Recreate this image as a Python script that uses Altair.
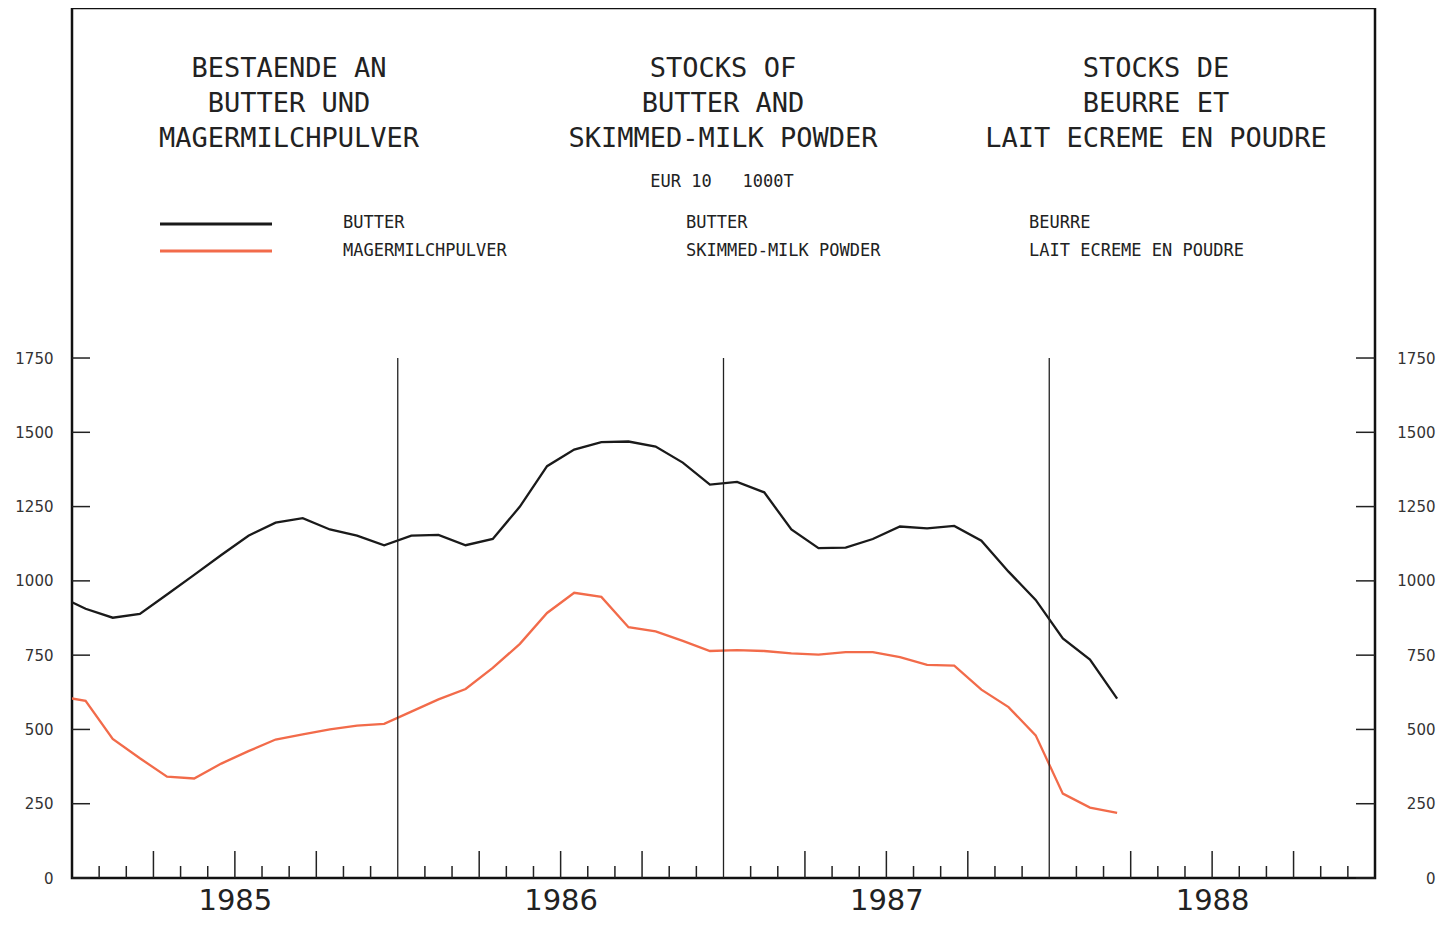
import altair as alt
import pandas as pd

# ---- data ----
months = list(range(-1, 39))  # month index from Jan 1985 = 0 (Dec 1984 = -1)
butter = [950, 906, 876, 889, 954, 1020, 1087, 1152, 1196, 1211, 1173, 1152,
          1120, 1152, 1155, 1120, 1141, 1250, 1386, 1442, 1467, 1469, 1452, 1398,
          1324, 1333, 1298, 1173, 1110, 1112, 1141, 1183, 1177, 1185, 1135, 1031,
          936, 806, 735, 604]
skimmed = [612, 596, 468, 403, 341, 335, 385, 427, 466, 483, 500, 513,
           519, 560, 601, 636, 707, 788, 892, 960, 946, 844, 830, 798,
           764, 767, 764, 756, 752, 760, 760, 743, 717, 715, 634, 575,
           480, 284, 237, 219]
series_names = ["BUTTER", "MAGERMILCHPULVER"]
series_colors = ["#1a1a1a", "#f26b4a"]

year_labels = ["1985", "1986", "1987", "1988"]
year_centers = [6, 18, 30, 42]
year_boundaries = [12, 24, 36]
y_ticks = [0, 250, 500, 750, 1000, 1250, 1500, 1750]
month_ticks = [m for m in range(1, 48) if m % 3 != 0]
quarter_ticks = [m for m in range(3, 48, 3) if m % 12 != 0]

title_de = ["BESTAENDE AN", "BUTTER UND", "MAGERMILCHPULVER"]
title_en = ["STOCKS OF", "BUTTER AND", "SKIMMED-MILK POWDER"]
title_fr = ["STOCKS DE", "BEURRE ET", "LAIT ECREME EN POUDRE"]
unit_text = "EUR 10\u00a0\u00a0\u00a01000T"
legend_de = ["BUTTER", "MAGERMILCHPULVER"]
legend_en = ["BUTTER", "SKIMMED-MILK POWDER"]
legend_fr = ["BEURRE", "LAIT ECREME EN POUDRE"]

# ---- layout ----
W, H = 1303, 870
XDOM = [0, 48]
YDOM = [0, 2928]
MONO = "DejaVu Sans Mono"
SANS = "DejaVu Sans"
INK = "#222222"

xs = alt.Scale(domain=XDOM, nice=False, zero=False)
ys = alt.Scale(domain=YDOM, nice=False, zero=False)

rows = []
for m, b, s in zip(months, butter, skimmed):
    rows.append({"pos": m + 0.5, "value": b, "series": series_names[0]})
    rows.append({"pos": m + 0.5, "value": s, "series": series_names[1]})
df = pd.DataFrame(rows)

label_expr = "[" + ",".join("'%s'" % y for y in year_labels) + "][floor(datum.value/12)]"

lines = alt.Chart(df).mark_line(clip=True, strokeWidth=2.3).encode(
    x=alt.X("pos:Q", scale=xs, axis=alt.Axis(
        values=year_centers, labelExpr=label_expr, ticks=False, tickSize=0,
        domain=False, grid=False, labelFont=SANS, labelFontSize=29,
        labelColor=INK, labelPadding=8, title=None)),
    y=alt.Y("value:Q", scale=ys, axis=alt.Axis(
        orient="left", values=y_ticks, format="d", ticks=False, tickSize=0, domain=False,
        grid=False, labelFont=SANS, labelFontSize=15, labelColor="#333333",
        labelPadding=19, title=None)),
    color=alt.Color("series:N", scale=alt.Scale(domain=series_names, range=series_colors), legend=None),
)

ytick_df = pd.DataFrame({"v": y_ticks})
left_ticks = alt.Chart(ytick_df).mark_rule(color=INK, strokeWidth=1.5).encode(
    y=alt.Y("v:Q", scale=ys, axis=None),
    x=alt.value(0), x2=alt.value(18),
)
right_ticks = alt.Chart(ytick_df).mark_rule(color=INK, strokeWidth=1.5).encode(
    y=alt.Y("v:Q", scale=ys, axis=alt.Axis(
        orient="right", values=y_ticks, format="d", ticks=False, tickSize=0, domain=False,
        grid=False, labelFont=SANS, labelFontSize=15, labelColor="#333333",
        labelAlign="right", labelPadding=60, title=None)),
    x=alt.value(W - 19), x2=alt.value(W),
)

mt = alt.Chart(pd.DataFrame({"k": month_ticks})).mark_rule(color=INK, strokeWidth=1.5).encode(
    x=alt.X("k:Q", scale=xs, axis=None), y=alt.value(H), y2=alt.value(H - 12))
qt = alt.Chart(pd.DataFrame({"k": quarter_ticks})).mark_rule(color=INK, strokeWidth=1.5).encode(
    x=alt.X("k:Q", scale=xs, axis=None), y=alt.value(H), y2=alt.value(H - 27))
yl = alt.Chart(pd.DataFrame({"k": year_boundaries})).mark_rule(color=INK, strokeWidth=1.3).encode(
    x=alt.X("k:Q", scale=xs, axis=None),
    y=alt.Y(datum=0, scale=ys, axis=None), y2=alt.Y2(datum=1750))

one = pd.DataFrame({"a": [0]})


def text(txt, x, y, size, align="center", font=MONO, lh=35):
    return alt.Chart(one).mark_text(
        font=font, fontSize=size, align=align, baseline="middle",
        lineHeight=lh, color=INK).encode(
        x=alt.value(x), y=alt.value(y), text=alt.value(txt))


def legline(x1, x2, y, color):
    return alt.Chart(one).mark_rule(color=color, strokeWidth=3).encode(
        x=alt.value(x1), x2=alt.value(x2), y=alt.value(y))


texts = [
    text(title_de, 217, 61, 27),
    text(title_en, 651, 61, 27),
    text(title_fr, 1084, 61, 27),
    text(unit_text, 650, 174, 17),
    text(legend_de, 271, 215, 17, align="left", lh=28),
    text(legend_en, 614, 215, 17, align="left", lh=28),
    text(legend_fr, 957, 215, 17, align="left", lh=28),
    legline(88, 200, 216, series_colors[0]),
    legline(88, 200, 243, series_colors[1]),
]

chart = alt.layer(lines, right_ticks, yl, mt, qt, left_ticks, *texts).resolve_axis(
    y="independent", x="independent"
).properties(
    width=W, height=H,
    autosize=alt.AutoSizeParams(type="none"),
    padding={"left": 64, "top": 0, "right": 72, "bottom": 42},
    background="white",
).configure_view(stroke="#111111", strokeWidth=2.5)

chart.save("out.html", embed_options={"renderer": "svg", "actions": False})
